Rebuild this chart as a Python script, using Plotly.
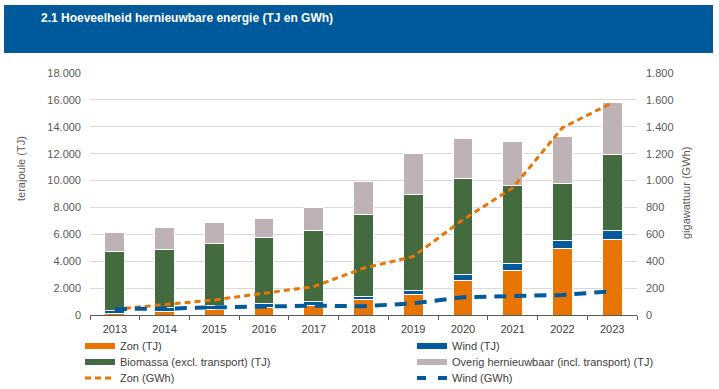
import plotly.graph_objects as go

years = ["2013", "2014", "2015", "2016", "2017", "2018", "2019", "2020", "2021", "2022", "2023"]
zon_tj = [110, 250, 400, 545, 710, 1140, 1515, 2560, 3305, 4945, 5620]
wind_tj = [200, 280, 280, 280, 260, 255, 330, 475, 550, 630, 700]
biomassa_tj = [4410, 4340, 4640, 4945, 5320, 6090, 7130, 7130, 5745, 4220, 5640]
overig_tj = [1400, 1640, 1540, 1415, 1715, 2460, 3060, 2960, 3330, 3505, 3880]
zon_gwh = [43, 75, 112, 162, 211, 348, 435, 709, 945, 1393, 1579]
wind_gwh = [45, 47, 57, 65, 69, 65, 87, 132, 137, 149, 177]

left_ticks = list(range(0, 18001, 2000))
right_ticks = list(range(0, 1801, 200))

C_ZON = "#E87502"
C_WIND = "#005A9C"
C_BIO = "#436B3F"
C_OVR = "#BEB2B4"
C_BAND = "#00599A"
C_TXT = "#595959"

# plot area geometry in px (for paper conversion)
W, H = 719, 389
L, R, T, B = 90, 82, 73, 74
PW = W - L - R
PH = H - T - B
def px(x):
    return (x - L) / PW
def py(y):
    return (H - B - y) / PH
def cx(x):
    return x / W
def cy(y):
    return (H - y) / H

fig = go.Figure()

bar_specs = [("Zon (TJ)", zon_tj, C_ZON), ("Wind (TJ)", wind_tj, C_WIND),
             ("Biomassa (excl. transport) (TJ)", biomassa_tj, C_BIO),
             ("Overig hernieuwbaar (incl. transport) (TJ)", overig_tj, C_OVR)]
for name, vals, col in bar_specs:
    fig.add_trace(go.Bar(x=years, y=vals, name=name, marker=dict(color=col, line=dict(color="white", width=1)),
                         showlegend=False, yaxis="y"))

fig.add_trace(go.Scatter(x=years, y=zon_gwh, name="Zon (GWh)", mode="lines",
                         line=dict(color=C_ZON, width=3, dash="6px,4px"), yaxis="y2", showlegend=False))
fig.add_trace(go.Scatter(x=years, y=wind_gwh, name="Wind (GWh)", mode="lines",
                         line=dict(color=C_WIND, width=4, dash="12px,8px"), yaxis="y2", showlegend=False))

# legend entries: (name, colour, dash, width, column x px, row y px)
legend_specs = [("Zon (TJ)", C_ZON, "solid", 6, 80, 346),
                ("Wind (TJ)", C_WIND, "solid", 6, 412, 346),
                ("Biomassa (excl. transport) (TJ)", C_BIO, "solid", 6, 80, 362),
                ("Overig hernieuwbaar (incl. transport) (TJ)", C_OVR, "solid", 6, 412, 362),
                ("Zon (GWh)", C_ZON, "6px,4px", 3, 80, 378),
                ("Wind (GWh)", C_WIND, "9px,12px", 4, 412, 378)]
legend_layouts = {}
for i, (name, col, dash, w, lx, ly) in enumerate(legend_specs):
    key = "legend" if i == 0 else f"legend{i + 1}"
    fig.add_trace(go.Scatter(x=[None], y=[None], name=name, mode="lines",
                             line=dict(color=col, width=w, dash=dash), legend=key, showlegend=True))
    legend_layouts[key] = dict(orientation="h", xanchor="left", yanchor="middle",
                               xref="container", yref="container", x=cx(lx), y=cy(ly),
                               font=dict(family="Liberation Sans, Arial, sans-serif", size=11, color="#404040"),
                               bgcolor="rgba(0,0,0,0)", itemclick=False)

fig.update_layout(
    width=W, height=H,
    margin=dict(l=L, r=R, t=T, b=B, pad=0, autoexpand=False),
    paper_bgcolor="white", plot_bgcolor="white",
    barmode="stack", bargap=0.6,
    separators=",.",
    font=dict(family="Liberation Sans, Arial, sans-serif", size=11, color=C_TXT),
    xaxis=dict(type="category", showline=True, linecolor=C_TXT, linewidth=1,
               ticks="outside", tickson="boundaries", ticklen=4, tickcolor=C_TXT,
               ticklabelstandoff=4,
               tickfont=dict(size=11, color="#404040"), showgrid=False),
    yaxis=dict(range=[0, 18000], tickvals=left_ticks, tickformat=",d",
               showgrid=True, gridcolor="#D9D9D9", gridwidth=1, zeroline=False,
               ticks="", ticklabelstandoff=8, tickfont=dict(size=11, color=C_TXT)),
    yaxis2=dict(range=[0, 1800], tickvals=right_ticks, tickformat=",d", overlaying="y",
                side="right", showgrid=False, zeroline=False, ticks="", ticklabelstandoff=8,
                tickfont=dict(size=11, color=C_TXT)),
    shapes=[dict(type="rect", xref="paper", yref="paper", x0=px(4), x1=px(713), y0=py(53), y1=py(5),
                 fillcolor=C_BAND, line=dict(width=0), layer="below")],
    annotations=[
        dict(text="<b>2.1 Hoeveelheid hernieuwbare energie (TJ en GWh)</b>", xref="paper", yref="paper",
             x=px(39), y=py(18), xanchor="left", yanchor="middle", showarrow=False,
             font=dict(family="Liberation Sans, Arial, sans-serif", size=12, color="white")),
        dict(text="terajoule (TJ)", xref="paper", yref="paper", x=px(21), y=py(169), textangle=-90,
             xanchor="center", yanchor="middle", showarrow=False, font=dict(size=11, color=C_TXT)),
        dict(text="gigawattuur (GWh)", xref="paper", yref="paper", x=px(686), y=py(193), textangle=-90,
             xanchor="center", yanchor="middle", showarrow=False, font=dict(size=11, color=C_TXT)),
    ],
)
fig.update_layout(**legend_layouts)

fig.write_html("out.html", config={"displayModeBar": False},
               post_script="document.body.style.margin='0';")
